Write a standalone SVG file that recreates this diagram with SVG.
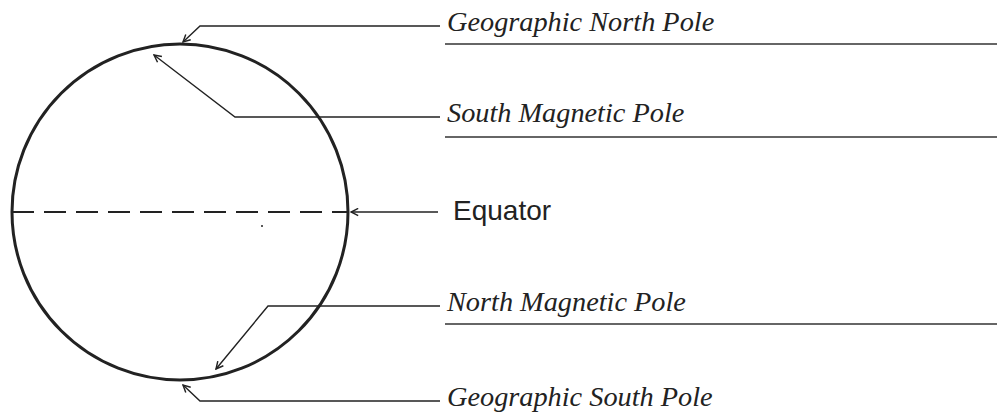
<svg xmlns="http://www.w3.org/2000/svg" width="997" height="415" viewBox="0 0 997 415">
<style>
.lead{fill:none;stroke:#222;stroke-width:1.4}
.ul{stroke:#333;stroke-width:1.6}
.lbl{font-family:"Liberation Serif",serif;font-style:italic;font-size:28.3px;fill:#222}
.sans{font-family:"Liberation Sans",Arial,sans-serif;font-size:28px;fill:#222}
</style>
<defs>
<marker id="ah" viewBox="0 0 10 10" refX="9" refY="5" markerWidth="9" markerHeight="9" markerUnits="userSpaceOnUse" orient="auto">
<polyline points="1,1 9,5 1,9" fill="none" stroke="#222" stroke-width="1.6"/>
</marker>
</defs>
<rect width="997" height="415" fill="#fff"/>
<g id="globe">
<circle cx="180" cy="212" r="168" fill="none" stroke="#222" stroke-width="3"/>
<line x1="12" y1="212" x2="348" y2="212" stroke="#222" stroke-width="2" stroke-dasharray="22 10"/>
<circle cx="262" cy="226" r="1" fill="#222"/>
</g>
<g id="connectors">
<polyline class="lead" points="440,26 200,26 183,42" marker-end="url(#ah)"/>
<polyline class="lead" points="440,117 235,117 154,55" marker-end="url(#ah)"/>
<polyline class="lead" points="438,212 351,212" marker-end="url(#ah)"/>
<polyline class="lead" points="440,306 268,306 216,369" marker-end="url(#ah)"/>
<polyline class="lead" points="440,401 200,401 183,385" marker-end="url(#ah)"/>
</g>
<g id="geo-north">
<text class="lbl" x="447" y="31">Geographic North Pole</text>
<line class="ul" x1="445" y1="44" x2="997" y2="44"/>
</g>
<g id="south-magnetic">
<text class="lbl" x="447" y="122">South Magnetic Pole</text>
<line class="ul" x1="445" y1="137" x2="997" y2="137"/>
</g>
<g id="equator">
<text class="sans" x="453" y="220">Equator</text>
</g>
<g id="north-magnetic">
<text class="lbl" x="447" y="311">North Magnetic Pole</text>
<line class="ul" x1="445" y1="324" x2="997" y2="324"/>
</g>
<g id="geo-south">
<text class="lbl" x="447" y="406">Geographic South Pole</text>
</g>
</svg>
